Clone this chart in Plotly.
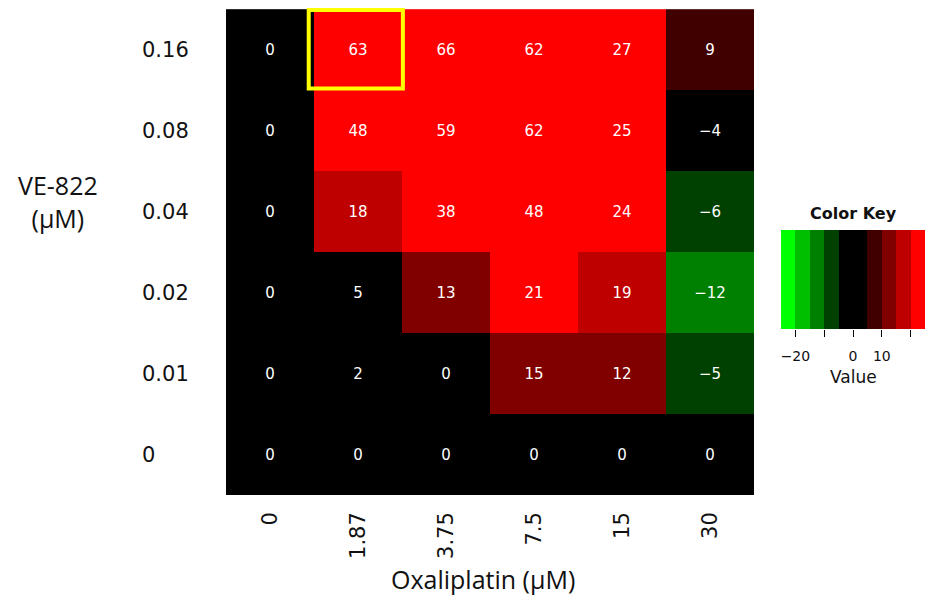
import plotly.graph_objects as go

# ---- data ----
oxaliplatin = ["0", "1.87", "3.75", "7.5", "15", "30"]          # columns (x)
ve822 = ["0", "0.01", "0.02", "0.04", "0.08", "0.16"]             # rows, bottom -> top
row_0 = [0, 0, 0, 0, 0, 0]
row_001 = [0, 2, 0, 15, 12, -5]
row_002 = [0, 5, 13, 21, 19, -12]
row_004 = [0, 18, 38, 48, 24, -6]
row_008 = [0, 48, 59, 62, 25, -4]
row_016 = [0, 63, 66, 62, 27, 9]
z = [row_0, row_001, row_002, row_004, row_008, row_016]

breaks = [-25, -20, -15, -10, -5, 5, 10, 15, 20, 25]
key_colors = ["#00FF00", "#00BF00", "#008000", "#004000", "#000000",
              "#400000", "#800000", "#BF0000", "#FF0000"]
key_ticks = [-20, -10, 0, 10, 20]
key_ticktext = ["\u221220", "", "0", "10", ""]
highlight_x, highlight_y = "1.87", "0.16"

zmin, zmax = breaks[0], breaks[-1]
eps = 0.01
colorscale = []
for i, c in enumerate(key_colors):
    lo = 0.0 if i == 0 else (breaks[i] + eps - zmin) / (zmax - zmin)
    hi = 1.0 if i == len(key_colors) - 1 else (breaks[i + 1] + eps - zmin) / (zmax - zmin)
    colorscale.append([lo, c])
    colorscale.append([hi, c])

W, H = 925, 597
px = lambda v: v / W
py = lambda v: 1 - v / H
FONT = "DejaVu Sans"
TXT = "#111111"

fig = go.Figure()
fig.add_trace(go.Heatmap(
    x=oxaliplatin, y=ve822, z=z,
    colorscale=colorscale, zmin=zmin, zmax=zmax, showscale=False,
    texttemplate="%{z}", textfont=dict(color="white", size=15, family=FONT),
    xaxis="x", yaxis="y",
))

key_centers = [(breaks[i] + breaks[i + 1]) / 2 for i in range(len(key_colors))]
fig.add_trace(go.Heatmap(
    x=breaks, y=[0], z=[key_centers],
    colorscale=colorscale, zmin=zmin, zmax=zmax, showscale=False,
    xaxis="x2", yaxis="y2", hoverinfo="skip",
))

ix = oxaliplatin.index(highlight_x)
iy = ve822.index(highlight_y)
fig.add_shape(type="rect", xref="x", yref="y",
              x0=ix - 0.56, x1=ix + 0.51, y0=iy - 0.48, y1=iy + 0.49,
              line=dict(color="#FFFF00", width=4))

annotations = []
for i, lab in enumerate(ve822):
    annotations.append(dict(text=lab, x=px(140), xref="paper", xanchor="left",
                            y=i, yref="y", yanchor="middle", showarrow=False,
                            font=dict(size=21, family=FONT, color=TXT)))
annotations += [
    dict(text="VE-822<br>(\u00b5M)", x=px(58), y=py(201), xref="paper", yref="paper",
         xanchor="center", yanchor="middle", showarrow=False,
         font=dict(size=25, family="Open Sans", color=TXT)),
    dict(text="Oxaliplatin (\u00b5M)", x=px(483), y=py(579), xref="paper", yref="paper",
         xanchor="center", yanchor="middle", showarrow=False,
         font=dict(size=25, family="Open Sans", color=TXT)),
    dict(text="<b>Color Key</b>", x=px(853), y=py(214), xref="paper", yref="paper",
         xanchor="center", yanchor="middle", showarrow=False,
         font=dict(size=16, family=FONT, color=TXT)),
    dict(text="Value", x=px(853), y=py(377), xref="paper", yref="paper",
         xanchor="center", yanchor="middle", showarrow=False,
         font=dict(size=17, family=FONT, color=TXT)),
]

fig.update_layout(
    width=W, height=H, margin=dict(l=0, r=0, t=0, b=0),
    paper_bgcolor="white", plot_bgcolor="white",
    xaxis=dict(domain=[px(226), px(754)], type="category", tickangle=-90,
               tickfont=dict(size=21, family=FONT, color=TXT),
               showgrid=False, zeroline=False, ticks="", ticklabelstandoff=12,
               anchor="y"),
    yaxis=dict(domain=[py(495), py(8)], type="category", showticklabels=False,
               showgrid=False, zeroline=False, ticks="", anchor="x"),
    xaxis2=dict(domain=[px(781), 1.0], range=[zmin, zmax], anchor="y2",
                tickvals=key_ticks, ticktext=key_ticktext, ticks="outside",
                ticklen=7, tickcolor="black", tickwidth=1,
                tickfont=dict(size=14, family=FONT, color=TXT),
                ticklabelstandoff=7, showgrid=False, zeroline=False, showline=False),
    yaxis2=dict(domain=[py(329), py(230)], anchor="x2", visible=False,
                range=[-0.5, 0.5]),
    annotations=annotations,
    showlegend=False,
)

fig.write_html("out.html", config={"displayModeBar": False},
               post_script="document.body.style.margin='0';document.body.style.overflow='hidden';")
